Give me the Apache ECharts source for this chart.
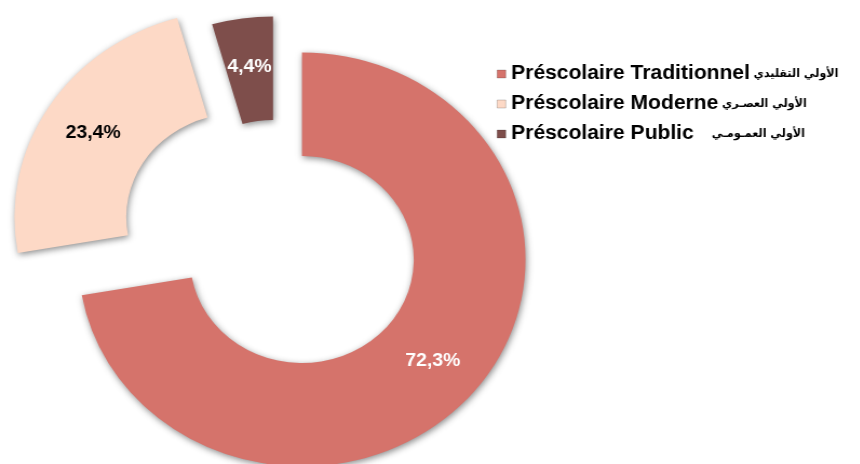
<!DOCTYPE html>
<html>
<head>
<meta charset="utf-8">
<script src="https://cdn.jsdelivr.net/npm/echarts@6/dist/echarts.min.js"></script>
<style>
  html, body { margin: 0; padding: 0; background: #ffffff; overflow: hidden; }
  #wrap { width: 860px; height: 464px; overflow: hidden; position: relative; }
  #chart { width: 796px; height: 464px; transform: scaleX(1.08); transform-origin: 0 0; }
</style>
</head>
<body>
<div id="wrap"><div id="chart"></div></div>
<script>
// ---- data ----
const categories = ['Préscolaire Traditionnel', 'Préscolaire Moderne', 'Préscolaire Public'];
const arabicNames = ['الأولي التقليدي', 'الأولي العصـري', 'الأولي العمـومـي'];
const shares = [72.3, 23.4, 4.4];

// ---- styling ----
const colors = ['#D5736B', '#FDD9C6', '#7E4E4B'];
const labelColors = ['#ffffff', '#000000', '#ffffff'];
const legendGaps = [' ', ' ', '     '];
// each slice is pulled out of the ring by its own amount: one pie series per slice
const centers = [[279.6, 259.5], [220.4, 217.2], [252.8, 223.5]];

const chart = echarts.init(document.getElementById('chart'), null, { renderer: 'canvas' });

const series = categories.map(function (owner, s) {
  return {
    type: 'pie',
    radius: [103.5, 207],
    center: centers[s],
    startAngle: 90,
    clockwise: true,
    avoidLabelOverlap: false,
    silent: true,
    animation: false,
    labelLine: { show: false },
    data: categories.map(function (name, i) {
      const own = i === s;
      return {
        name: name,
        value: shares[i],
        itemStyle: own ? {
          color: colors[i],
          shadowBlur: 6,
          shadowColor: 'rgba(0,0,0,0.45)',
          shadowOffsetX: 1,
          shadowOffsetY: 2
        } : { color: colors[i], opacity: 0 },
        label: own ? {
          show: true,
          position: 'inside',
          color: labelColors[i],
          fontFamily: 'Liberation Sans, Arial, sans-serif',
          fontWeight: 'bold',
          fontSize: 18,
          formatter: function (p) { return String(p.value).replace('.', ',') + '%'; }
        } : { show: false }
      };
    })
  };
});

chart.setOption({
  backgroundColor: '#ffffff',
  animation: false,
  legend: {
    orient: 'vertical',
    left: 455,
    top: 59,
    itemWidth: 8,
    itemHeight: 8,
    itemGap: 10,
    icon: 'rect',
    selectedMode: false,
    data: categories.map(function (name, i) {
      return { name: name, itemStyle: { color: colors[i], opacity: 1, borderColor: 'rgba(0,0,0,0.3)', borderWidth: 0.6 } };
    }),
    formatter: function (name) {
      const i = categories.indexOf(name);
      return '{fr|' + name + '}' + legendGaps[i] + '{ar|' + arabicNames[i] + '}';
    },
    textStyle: {
      rich: {
        fr: { fontFamily: 'Liberation Sans, Arial, sans-serif', fontWeight: 'bold', fontSize: 19.5, color: '#000000', lineHeight: 20 },
        ar: { fontFamily: '"DejaVu Sans Condensed", "DejaVu Sans", sans-serif', fontWeight: 'bold', fontSize: 11.5, color: '#000000', lineHeight: 20 }
      }
    }
  },
  series: series
});
</script>
</body>
</html>
